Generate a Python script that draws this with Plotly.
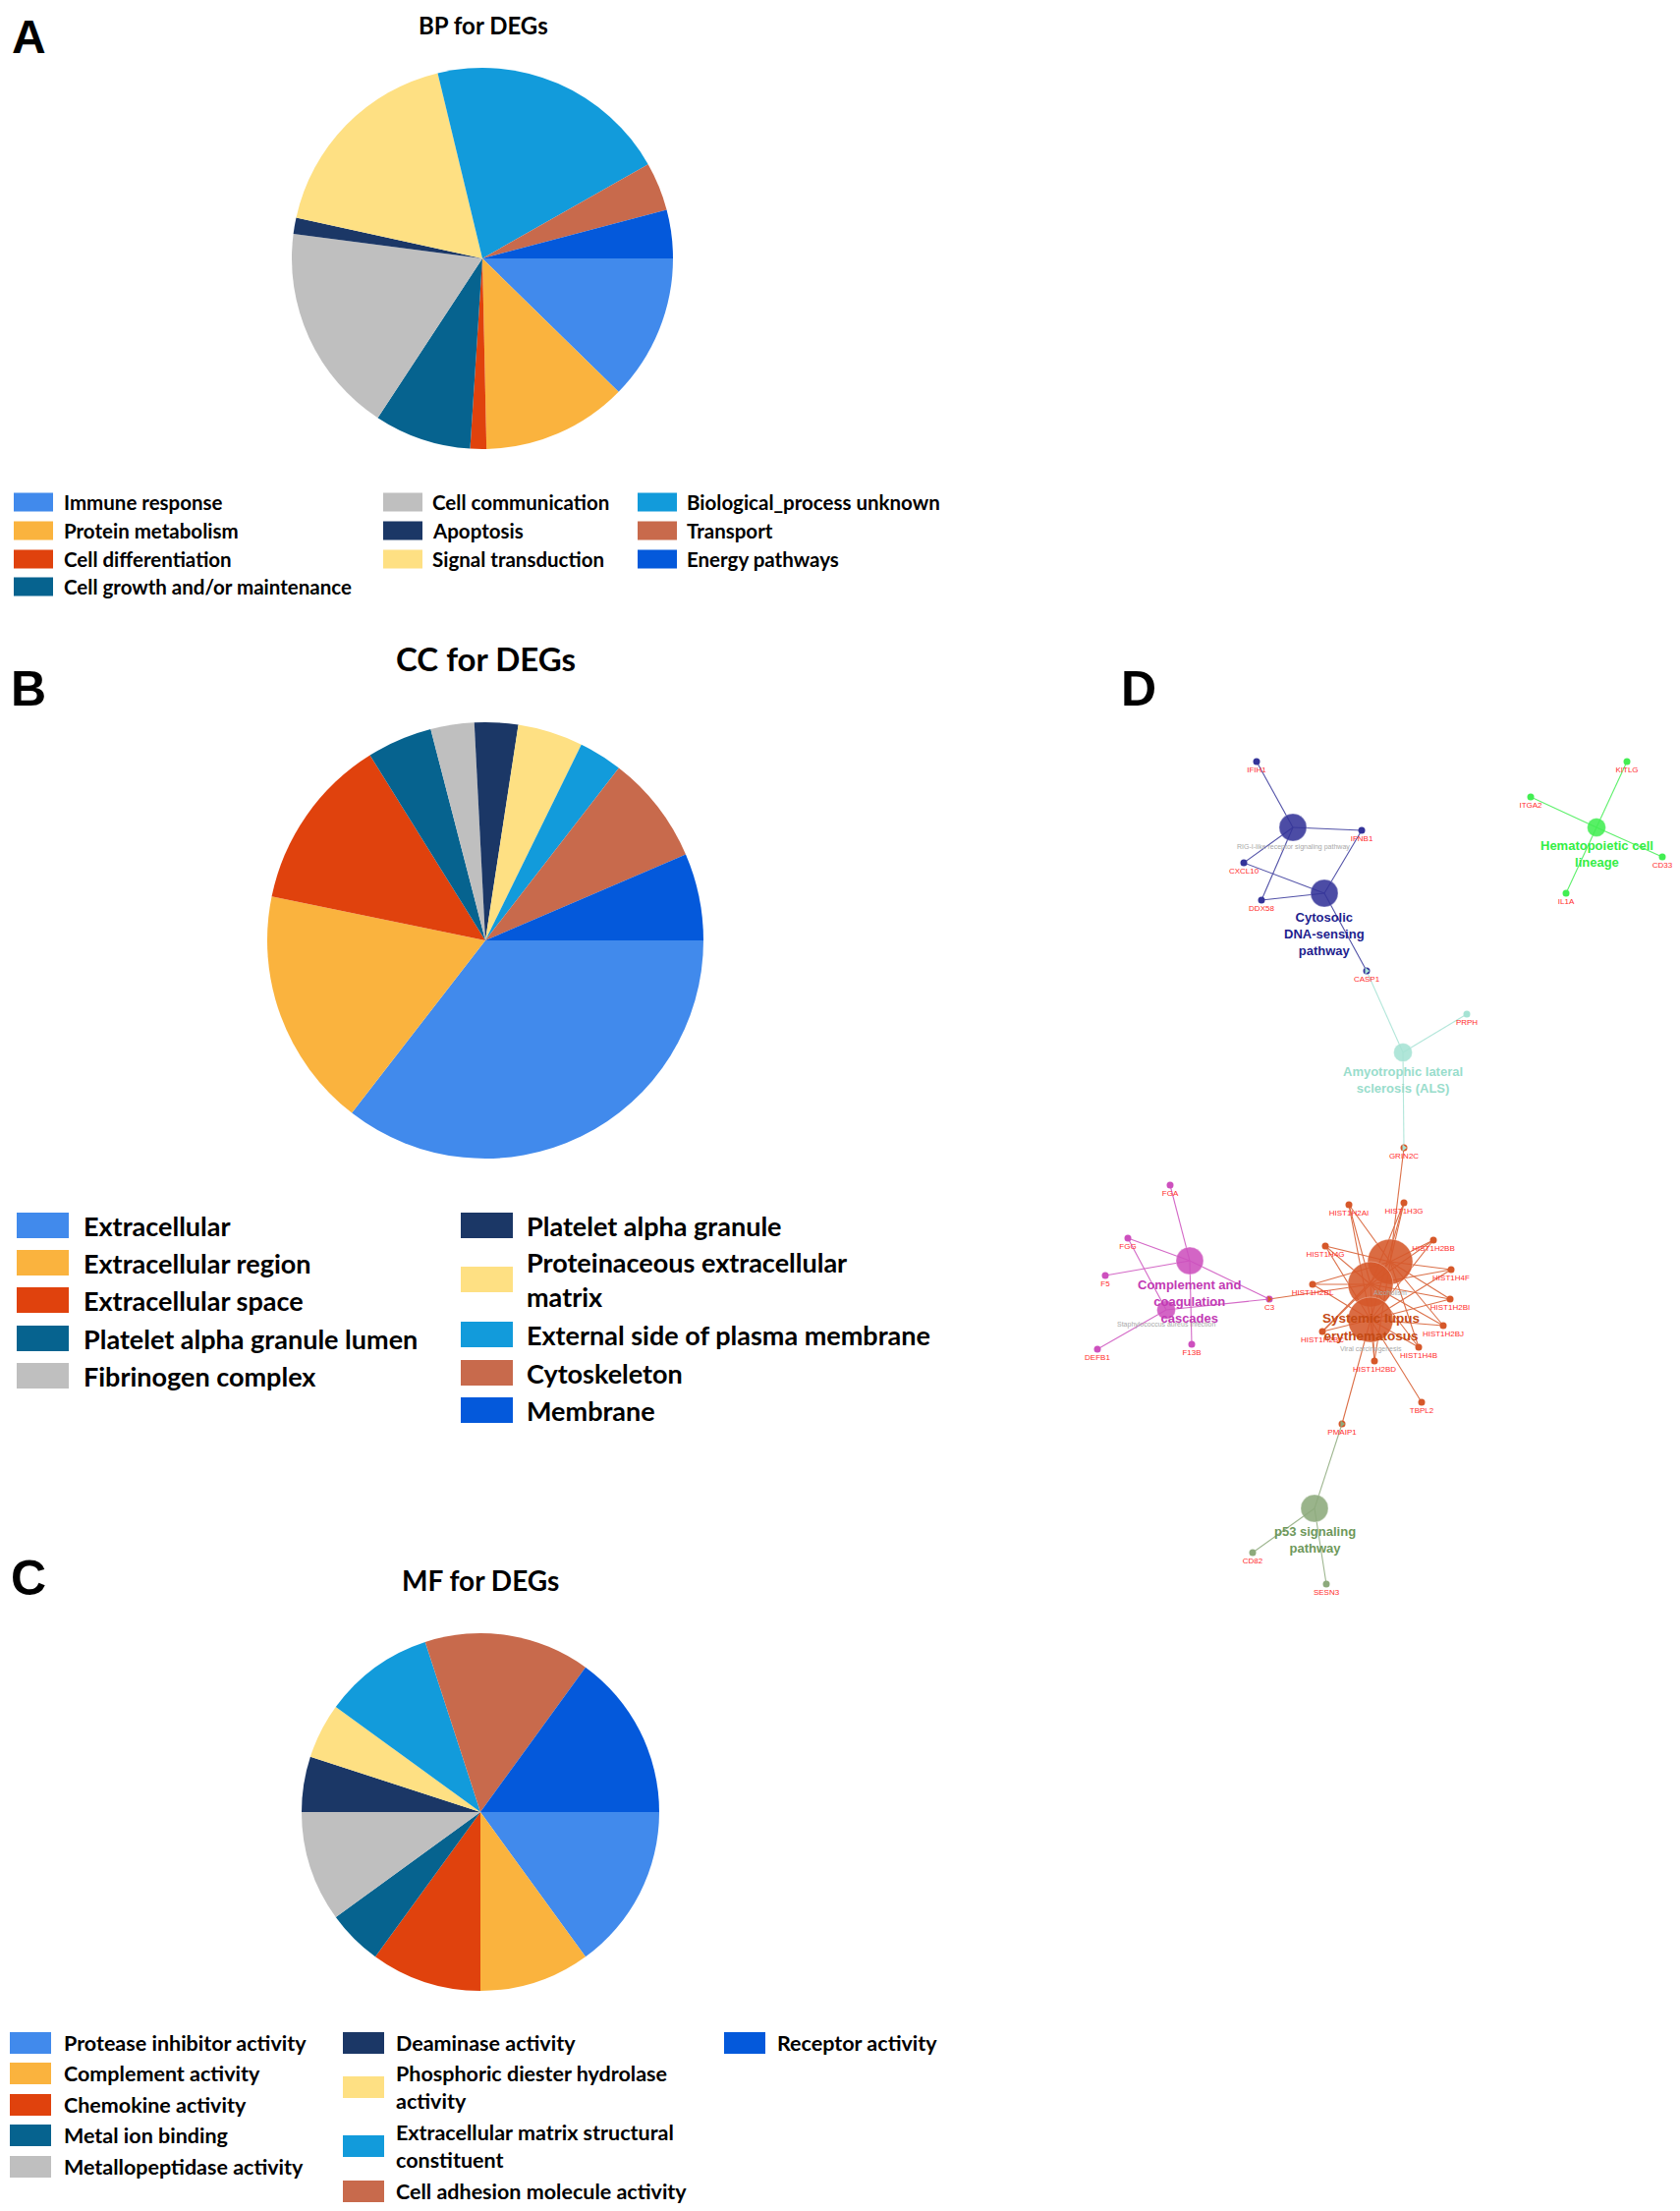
import plotly.graph_objects as go

W, H = 1710, 2250
OFF = 8  # the page body margin shifts the plot div by 8 px

# ---------------- data: pie panels ----------------
palette = ["#418AEC", "#FAB33E", "#E0420D", "#06638F", "#BFBFBF",
           "#1B3766", "#FEE083", "#129BDB", "#C86A4C", "#0459DB"]

bp_labels = ["Immune response", "Protein metabolism", "Cell differentiation",
             "Cell growth and/or maintenance", "Cell communication", "Apoptosis",
             "Signal transduction", "Biological_process unknown", "Transport",
             "Energy pathways"]
bp_values = [9, 9, 1, 6, 13, 1, 13, 15, 3, 3]

cc_labels = ["Extracellular", "Extracellular region", "Extracellular space",
             "Platelet alpha granule lumen", "Fibrinogen complex",
             "Platelet alpha granule", "Proteinaceous extracellular matrix",
             "External side of plasma membrane", "Cytoskeleton", "Membrane"]
cc_values = [22, 11, 8, 3, 2, 2, 3, 2, 5, 4]

mf_labels = ["Protease inhibitor activity", "Complement activity", "Chemokine activity",
             "Metal ion binding", "Metallopeptidase activity", "Deaminase activity",
             "Phosphoric diester hydrolase activity",
             "Extracellular matrix structural constituent",
             "Cell adhesion molecule activity", "Receptor activity"]
mf_values = [3, 2, 2, 1, 2, 1, 1, 2, 3, 3]

# ---------------- data: network panel ----------------
gene_names = ["IFIH1", "IFNB1", "CXCL10", "DDX58", "CASP1",
              "KITLG", "ITGA2", "CD33", "IL1A",
              "PRPH", "GRIN2C",
              "FGA", "FGG", "F5", "DEFB1", "F13B", "C3",
              "HIST1H2AI", "HIST1H3G", "HIST1H2BB", "HIST1H4G", "HIST1H4F",
              "HIST1H2BL", "HIST1H2BI", "HIST1H2BC", "HIST1H2BJ", "HIST1H4B",
              "HIST1H2BD", "TBPL2",
              "PMAIP1", "CD82", "SESN3"]
gene_x = [1279, 1386, 1266, 1284, 1391,
          1656, 1558, 1692, 1594,
          1493, 1429,
          1191, 1148, 1125, 1117, 1213, 1292,
          1373, 1429, 1459, 1349, 1477,
          1336, 1476, 1346, 1469, 1444,
          1399, 1447,
          1366, 1275, 1350]
gene_y = [775, 845, 878, 916, 988,
          775, 811, 872, 909,
          1032, 1168,
          1206, 1260, 1298, 1373, 1368, 1322,
          1226, 1224, 1262, 1268, 1292,
          1307, 1322, 1355, 1349, 1371,
          1385, 1427,
          1449, 1580, 1612]
gene_group = ["rig", "rig", "rig", "rig", "rig",
              "hem", "hem", "hem", "hem",
              "als", "sle",
              "comp", "comp", "comp", "comp", "comp", "comp",
              "sle", "sle", "sle", "sle", "sle",
              "sle", "sle", "sle", "sle", "sle",
              "sle", "sle",
              "sle", "p53", "p53"]
# genes shared by two groups are drawn as two-coloured nodes
gene_group2 = {"CASP1": "als", "GRIN2C": "als", "C3": "sle", "PMAIP1": "p53"}

term_names = ["RIG-I-like receptor signaling pathway", "Cytosolic DNA-sensing pathway",
              "Hematopoietic cell lineage", "Amyotrophic lateral sclerosis (ALS)",
              "Complement and coagulation cascades", "Staphylococcus aureus infection",
              "Alcoholism", "Systemic lupus erythematosus", "Viral carcinogenesis",
              "p53 signaling pathway"]
term_x = [1316, 1348, 1625, 1428, 1211, 1187, 1415, 1395, 1395, 1338]
term_y = [842, 909, 842, 1071, 1283, 1333, 1284, 1307, 1343, 1535]
term_size = [28, 28, 19, 19, 28, 19, 46, 46, 46, 28]
term_group = ["rig", "rig", "hem", "als", "comp", "comp", "sle", "sle", "sle", "p53"]
term_lead = [False, True, True, True, True, False, False, True, False, True]
term_wrap = ["RIG-I-like receptor signaling pathway", "Cytosolic<br>DNA-sensing<br>pathway",
             "Hematopoietic cell<br>lineage", "Amyotrophic lateral<br>sclerosis (ALS)",
             "Complement and<br>coagulation<br>cascades", "Staphylococcus aureus infection",
             "Alcoholism", "Systemic lupus<br>erythematosus", "Viral carcinogenesis",
             "p53 signaling<br>pathway"]

hist = ["HIST1H2AI", "HIST1H3G", "HIST1H2BB", "HIST1H4G", "HIST1H4F", "HIST1H2BL",
        "HIST1H2BI", "HIST1H2BC", "HIST1H2BJ", "HIST1H4B", "HIST1H2BD"]
edges = [("IFIH1", 0), ("IFNB1", 0), ("CXCL10", 0), ("DDX58", 0),
         ("CXCL10", 1), ("DDX58", 1), ("IFNB1", 1), ("CASP1", 1),
         ("CASP1", 3), ("PRPH", 3), ("GRIN2C", 3),
         ("KITLG", 2), ("ITGA2", 2), ("CD33", 2), ("IL1A", 2),
         ("FGA", 4), ("FGG", 4), ("F5", 4), ("C3", 4), ("F13B", 4),
         ("FGG", 5), ("DEFB1", 5), ("C3", 5),
         ("GRIN2C", 6), ("C3", 7), ("PMAIP1", 8), ("TBPL2", 8),
         ("PMAIP1", 9), ("CD82", 9), ("SESN3", 9)]
for g in hist:
    edges += [(g, 6), (g, 7), (g, 8)]

# ---------------- styling ----------------
grp_color = {"rig": "#343499", "hem": "#42EE52", "als": "#A6E3D4",
             "comp": "#CD50BE", "sle": "#D6582A", "p53": "#8DAA7C"}
grp_label = {"rig": "#1E1E8E", "hem": "#33EE44", "als": "#99DDCC",
             "comp": "#C23AB4", "sle": "#C44A14", "p53": "#6E985A"}
label_dy = [20, 41, 27, 28, 41, 15, 31, 43, 30, 32]

LEG_FONT = "Lato"
fig = go.Figure()


def add_pie(labels, values, cx, cy, r):
    cx -= OFF
    cy -= OFF
    fig.add_trace(go.Pie(
        labels=labels, values=values, sort=False, direction="clockwise",
        rotation=90, textinfo="none", hoverinfo="label+value+percent",
        marker=dict(colors=palette, line=dict(width=0)),
        domain=dict(x=[(cx - r) / W, (cx + r) / W],
                    y=[1 - (cy + r) / H, 1 - (cy - r) / H]),
        showlegend=False))


add_pie(bp_labels, bp_values, 491, 263, 194)
add_pie(cc_labels, cc_values, 494, 957, 222)
add_pie(mf_labels, mf_values, 489, 1844, 182)

annotations = []
shapes = []


def txt(x, y, s, size, color="black", family=LEG_FONT, bold=False, xa="left",
        ya="middle", align="left"):
    annotations.append(dict(x=x, y=y, xref="x", yref="y", text=(f"<b>{s}</b>" if bold else s),
                            showarrow=False, xanchor=xa, yanchor=ya, align=align,
                            font=dict(family=family, size=size, color=color)))


# panel letters + titles
txt(29, OFF + 1, "A", 48, family="Liberation Sans", bold=True, xa="center", ya="top", align="center")
for letter, lx, ly in [("B", 29, 701), ("C", 29, 1606), ("D", 1159, 701)]:
    txt(lx, ly, letter, 50, family="Liberation Sans", bold=True, xa="center", align="center")
txt(492, OFF + 1, "BP for DEGs", 24, bold=True, xa="center", ya="top", align="center")
txt(494, 670, "CC for DEGs", 33, bold=True, xa="center", align="center")
txt(489, 1608, "MF for DEGs", 28, bold=True, xa="center", align="center")


def legend(labels, wrapped, cols, rows_y, sw, sh, fsize):
    # cols: list of (swatch_x, text_x); rows_y: per-item (col index, y)
    for i, lab in enumerate(labels):
        c, y = rows_y[i]
        sx, tx = cols[c]
        shapes.append(dict(type="rect", xref="x", yref="y", x0=sx, x1=sx + sw,
                           y0=y - sh / 2, y1=y + sh / 2, fillcolor=palette[i],
                           line=dict(width=0)))
        txt(tx, y, wrapped.get(lab, lab), fsize, bold=True)


legend(bp_labels, {}, [(14, 63), (390, 438), (649, 697)],
       [(0, 511), (0, 540), (0, 569), (0, 597), (1, 511), (1, 540), (1, 569),
        (2, 511), (2, 540), (2, 569)], 40, 19, 20.5)
legend(cc_labels, {"Proteinaceous extracellular matrix": "Proteinaceous extracellular<br>matrix"},
       [(17, 83), (469, 534)],
       [(0, 1247), (0, 1285), (0, 1323), (0, 1362), (0, 1400),
        (1, 1247), (1, 1302), (1, 1358), (1, 1397), (1, 1435)], 53, 26, 27)
legend(mf_labels, {"Phosphoric diester hydrolase activity": "Phosphoric diester hydrolase<br>activity",
                   "Extracellular matrix structural constituent": "Extracellular matrix structural<br>constituent"},
       [(10, 63), (349, 401), (737, 789)],
       [(0, 2079), (0, 2110), (0, 2142), (0, 2173), (0, 2205),
        (1, 2079), (1, 2124), (1, 2184), (1, 2230), (2, 2079)], 42, 22, 21.5)

# ---------------- network ----------------
gidx = {n: i for i, n in enumerate(gene_names)}
for grp in grp_color:
    ex, ey = [], []
    for g, t in edges:
        if term_group[t] != grp:
            continue
        i = gidx[g]
        ex += [gene_x[i], term_x[t], None]
        ey += [gene_y[i], term_y[t], None]
    if ex:
        fig.add_trace(go.Scatter(x=ex, y=ey, mode="lines", hoverinfo="skip",
                                 line=dict(color=grp_color[grp], width=1.1),
                                 opacity=0.85, showlegend=False))

fig.add_trace(go.Scatter(
    x=term_x, y=term_y, mode="markers", text=term_names, hoverinfo="text",
    marker=dict(size=term_size, color=[grp_color[g] for g in term_group], opacity=0.88,
                line=dict(width=0.6, color="rgba(255,255,255,0.6)")),
    showlegend=False))

fig.add_trace(go.Scatter(
    x=gene_x, y=gene_y, mode="markers+text", text=gene_names, textposition="bottom center",
    textfont=dict(family="Liberation Sans", size=8, color="#FF2B2B"),
    marker=dict(size=7, color=[grp_color[g] for g in gene_group]),
    hoverinfo="text", showlegend=False))

# right half of two-group genes in the second group's colour
sx = [gene_x[gidx[g]] for g in gene_group2]
sy = [gene_y[gidx[g]] for g in gene_group2]
fig.add_trace(go.Scatter(
    x=sx, y=sy, mode="markers", hoverinfo="skip",
    marker=dict(size=6, symbol="triangle-right",
                color=[grp_color[v] for v in gene_group2.values()]),
    showlegend=False))

for i, name in enumerate(term_names):
    if term_lead[i]:
        fs = 13.5 if term_group[i] == "sle" else 13
        txt(term_x[i], term_y[i] + label_dy[i], term_wrap[i], fs,
            color=grp_label[term_group[i]], family="Liberation Sans", bold=True,
            xa="center", align="center")
    else:
        txt(term_x[i], term_y[i] + label_dy[i], term_wrap[i], 7,
            color="#A8A8A8", family="Liberation Sans", xa="center", align="center")

fig.update_layout(
    width=W, height=H, margin=dict(l=0, r=0, t=0, b=0),
    paper_bgcolor="white", plot_bgcolor="white", showlegend=False,
    xaxis=dict(range=[OFF, W + OFF], domain=[0, 1], visible=False, fixedrange=True),
    yaxis=dict(range=[H + OFF, OFF], domain=[0, 1], visible=False, fixedrange=True),
    annotations=annotations, shapes=shapes)

fig.write_html("out.html")
